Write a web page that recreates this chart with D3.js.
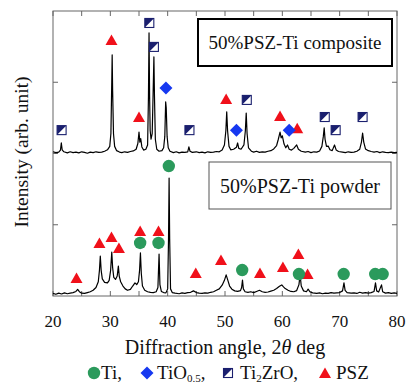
<!DOCTYPE html>
<html>
<head>
<meta charset="utf-8">
<script src="https://cdn.jsdelivr.net/npm/d3@7"></script>
<style>
  body { margin: 0; background: #fff; }
  svg { display: block; }
  text { font-family: "Liberation Serif", "Times New Roman", serif; fill: #111; }
</style>
</head>
<body>
<svg width="409" height="384"></svg>
<script>
// 2theta (deg) vs intensity (arb.)
const composite = [
  [20,50.6],[20.5,50.3],[21,50.5],[21.3,51.2],[21.45,53.7],[21.6,51.3],[21.9,50.6],[22.5,50.2],[23,50.6],[23.5,50.3],
  [24,50.5],[24.5,50.2],[25,50.6],[25.5,50.4],[26,50.1],[26.5,50.5],[27,50.3],[27.5,50.6],[28,50.4],[28.5,50.5],
  [29,50.8],[29.5,51.3],[29.9,52.5],[30.1,57],[30.25,75],[30.32,84.6],[30.4,72],[30.55,57],[30.75,52.5],[31.1,51],
  [31.6,50.5],[32,50.3],[32.5,50.6],[33,50.4],[33.5,50.7],[34,50.9],[34.5,51.5],[34.8,53.5],[35.0,57.5],[35.15,54],
  [35.3,55.2],[35.5,52.3],[35.8,51.2],[36.2,51.5],[36.5,53],[36.65,70],[36.75,92.3],[36.85,70],[36.95,58],[37.1,55],
  [37.3,57],[37.45,70],[37.6,83.9],[37.7,70],[37.85,55],[38.1,51.5],[38.5,50.8],[39,51],[39.3,52],[39.5,56],
  [39.65,68.1],[39.75,66],[39.9,56],[40.1,52],[40.4,50.8],[41,50.3],[41.5,50.6],[42,50.2],[42.5,50.5],[43,50.4],
  [43.5,50.6],[43.7,52.3],[43.9,50.8],[44.3,50.4],[45,50.6],[45.5,50.3],[46,50.5],[46.5,50.2],[47,50.6],[47.5,50.4],
  [48,50.5],[48.5,50.7],[49,50.6],[49.5,51.2],[49.9,53],[50.15,58],[50.3,64.6],[50.45,58],[50.7,52.5],[51,51.3],
  [51.5,51.5],[52,52.2],[52.2,53.7],[52.4,51.8],[52.8,51.5],[53.3,53],[53.55,58],[53.7,64.2],[53.85,57],[54.1,52],
  [54.6,50.8],[55,50.5],[55.5,50.8],[56,50.4],[56.5,50.6],[57,50.5],[57.5,50.8],[58,51],[58.5,51.6],[59,52.8],
  [59.3,55],[59.6,57.5],[59.8,55.5],[60,56.2],[60.3,53.3],[60.6,52],[60.9,53],[61.2,51.5],[61.6,51.2],[62,51.8],
  [62.5,53],[62.8,51.5],[63.3,50.8],[64,50.5],[64.5,50.7],[65,50.3],[65.5,50.6],[66,50.5],[66.5,50.9],[66.9,52.5],
  [67.15,56],[67.3,59],[67.45,55],[67.7,52.5],[68,52.6],[68.3,51.3],[68.7,51],[69.1,53],[69.4,51.2],[69.8,50.7],
  [70.5,50.5],[71,50.3],[71.5,50.6],[72,50.4],[72.5,50.5],[73,50.8],[73.5,51.5],[73.8,54],[74,57.2],[74.2,54],
  [74.5,51.6],[75,51],[75.5,50.7],[76,50.5],[76.5,50.7],[77,50.3],[77.5,50.6],[78,50.4],[78.5,50.3],[79,50.5],
  [79.5,50.3],[80,50.4]
];

const powder = [
  [20,0.9],[20.5,0.6],[21,1.0],[21.5,0.7],[22,1.1],[22.5,0.8],[23,1.0],[23.5,1.2],[24,1.6],[24.3,2.3],
  [24.6,1.5],[25,1.0],[25.5,0.9],[26,1.2],[26.5,1.5],[27,2],[27.5,3],[27.9,5],[28.1,9],[28.25,14],
  [28.4,9],[28.6,6],[29,4.8],[29.5,4.6],[29.8,5.5],[30.05,9],[30.25,15.4],[30.4,10],[30.6,6.5],[30.9,5.8],
  [31.2,7],[31.4,10.5],[31.55,7],[31.8,5],[32.2,3.5],[32.6,2.5],[33,2],[33.5,2.3],[33.9,3.5],[34.3,4.6],
  [34.6,4],[34.9,5],[35.1,9],[35.25,15.1],[35.4,8],[35.6,3.5],[36,2],[36.5,1.5],[37,1.3],[37.5,1.2],
  [38,1.5],[38.3,3],[38.5,14.7],[38.65,4],[38.9,1.6],[39.3,1.2],[39.7,1.1],[40.0,2.5],[40.15,20],[40.25,41.4],
  [40.35,20],[40.5,2.5],[40.8,1.2],[41.3,1.0],[42,0.8],[42.5,1.1],[43,0.9],[43.5,1.2],[44,1.3],[44.5,1.8],
  [45,1.2],[45.5,1.0],[46,0.9],[46.5,1.1],[47,1.0],[47.5,1.3],[48,1.5],[48.5,2],[49,2.5],[49.5,3.8],
  [49.9,5.5],[50.2,7.4],[50.5,5.5],[50.8,3.5],[51.2,2.4],[51.7,1.8],[52.2,1.6],[52.7,1.9],[52.9,3],[53.05,5.6],
  [53.2,2.5],[53.5,1.5],[54,1.3],[54.5,1.5],[55,1.2],[55.5,1.6],[56,2],[56.5,1.5],[57,1.3],[57.5,1.4],
  [58,1.7],[58.5,2],[59,2.6],[59.5,3.4],[59.9,3.9],[60.2,3.2],[60.5,2.6],[61,2.0],[61.5,1.6],[62,1.5],
  [62.5,1.9],[62.9,4],[63.1,7.4],[63.3,3.5],[63.7,1.8],[64.2,1.5],[64.5,2.4],[64.8,1.5],[65.3,1.1],[66,0.9],
  [66.5,1.1],[67,0.8],[67.5,1.0],[68,0.9],[68.5,1.2],[69,1.0],[69.5,1.1],[70,1.2],[70.5,1.8],[70.75,4.6],
  [70.95,2],[71.3,1.2],[72,1.0],[72.5,1.1],[73,0.9],[73.5,1.3],[74,1.0],[74.5,1.2],[75,1.0],[75.5,1.2],
  [76,1.6],[76.25,4.6],[76.45,1.8],[76.8,1.4],[77.3,3.9],[77.5,1.5],[78,1.0],[78.5,1.2],[79,0.9],[79.5,1.1],
  [80,0.9]
];

// phase markers [2theta, height]
const tiMarks = [[40.2,45.6],[35.2,18.6],[38.4,18.6],[53.0,9.1],[62.9,7.7],[70.7,7.7],[76.2,7.7],[77.5,7.7]];
const tioMarks = [[39.7,73],[52.0,58.2],[61.2,58.2]];
const ti2zroMarks = [[21.5,58.2],[36.8,95.8],[37.6,87.4],[43.8,58.2],[53.8,68.8],[67.4,62.8],[69.3,58.2],[74.0,62.8]];
const pszMarks = [[30.2,89.8],[35.0,62.8],[50.2,69.1],[59.6,63.2],[62.6,58.9],
  [24.1,6.3],[28.1,18.6],[30.2,20.7],[31.5,16.8],[35.2,22.8],[38.4,22.8],[44.9,8.1],[49.3,12.6],
  [56.1,8.1],[60.1,10.2],[62.8,14.7],[64.4,7.7]];

const xTicks = [20, 30, 40, 50, 60, 70, 80];
const xMinor = d3.range(20, 81, 5);
const yTicks = [25, 50, 75];

const C_TI = '#2b9a5c', C_TIO = '#1638f0', C_TZ = '#1a1f6e', C_PSZ = '#f0101a';

const svg = d3.select('svg');
const m = {l: 53, r: 397, t: 11, b: 296};
const x = d3.scaleLinear().domain([20, 80]).range([m.l, m.r]);
const y = d3.scaleLinear().domain([0, 100]).range([m.b, m.t]);

// frame + ticks
const axG = svg.append('g').attr('stroke', '#666').attr('stroke-width', 1);
axG.append('rect').attr('x', m.l).attr('y', m.t).attr('width', m.r - m.l).attr('height', m.b - m.t)
  .attr('fill', 'none');
axG.selectAll('.tt').data(xMinor).enter().append('line')
  .attr('x1', d => x(d)).attr('x2', d => x(d)).attr('y1', m.t).attr('y2', m.t + 5);
axG.selectAll('.tb').data(xMinor).enter().append('line')
  .attr('x1', d => x(d)).attr('x2', d => x(d)).attr('y1', m.b).attr('y2', m.b - 5);
axG.selectAll('.tl').data(yTicks).enter().append('line')
  .attr('x1', m.l).attr('x2', m.l + 5).attr('y1', d => y(d)).attr('y2', d => y(d));
axG.selectAll('.tr').data(yTicks).enter().append('line')
  .attr('x1', m.r).attr('x2', m.r - 5).attr('y1', d => y(d)).attr('y2', d => y(d));

svg.selectAll('.xl').data(xTicks).enter().append('text')
  .attr('x', d => x(d)).attr('y', 327).attr('text-anchor', 'middle')
  .style('font-size', '17px').text(d => d);

// spectra
const line = d3.line().x(d => x(d[0])).y(d => y(d[1]));
[composite, powder].forEach(s => {
  svg.append('path').datum(s).attr('d', line)
    .attr('fill', 'none').attr('stroke', '#000').attr('stroke-width', 1.2)
    .attr('stroke-linejoin', 'round');
});

// marker drawing helpers
function drawTri(g, cx, cy) {
  g.append('path').attr('d', `M${cx},${cy - 5.5}L${cx + 6},${cy + 5}L${cx - 6},${cy + 5}Z`).attr('fill', C_PSZ);
}
function drawCircle(g, cx, cy) {
  g.append('circle').attr('cx', cx).attr('cy', cy).attr('r', 6.2).attr('fill', C_TI);
}
function drawDiamond(g, cx, cy) {
  g.append('path').attr('d', `M${cx},${cy - 6.5}L${cx + 6.5},${cy}L${cx},${cy + 6.5}L${cx - 6.5},${cy}Z`).attr('fill', C_TIO);
}
function drawSquare(g, cx, cy) {
  const h = 4.5;
  g.append('rect').attr('x', cx - h).attr('y', cy - h).attr('width', 2 * h).attr('height', 2 * h)
    .attr('fill', '#fff').attr('stroke', C_TZ).attr('stroke-width', 1.1);
  g.append('path').attr('d', `M${cx - h},${cy - h}L${cx + h},${cy - h}L${cx - h},${cy + h}Z`).attr('fill', C_TZ);
}

const mk = svg.append('g');
pszMarks.forEach(d => drawTri(mk, x(d[0]), y(d[1])));
tiMarks.forEach(d => drawCircle(mk, x(d[0]), y(d[1])));
tioMarks.forEach(d => drawDiamond(mk, x(d[0]), y(d[1])));
ti2zroMarks.forEach(d => drawSquare(mk, x(d[0]), y(d[1])));

// sample labels
svg.append('rect').attr('x', 198).attr('y', 19).attr('width', 194).attr('height', 47)
  .attr('fill', '#fff').attr('stroke', '#000').attr('stroke-width', 2);
svg.append('text').attr('x', 295).attr('y', 49).attr('text-anchor', 'middle')
  .style('font-size', '19px').text('50%PSZ-Ti composite');

svg.append('rect').attr('x', 209).attr('y', 162).attr('width', 182).attr('height', 47)
  .attr('fill', '#fff').attr('stroke', '#555').attr('stroke-width', 1);
svg.append('text').attr('x', 300).attr('y', 193).attr('text-anchor', 'middle')
  .style('font-size', '20px').text('50%PSZ-Ti powder');

// axis titles
const xt = svg.append('text').attr('x', 225).attr('y', 354).attr('text-anchor', 'middle')
  .style('font-size', '20px');
xt.append('tspan').text('Diffraction angle, 2');
xt.append('tspan').style('font-style', 'italic').text('θ');
xt.append('tspan').text(' deg');

svg.append('text').attr('transform', 'translate(28,152) rotate(-90)').attr('text-anchor', 'middle')
  .style('font-size', '19.5px').text('Intensity (arb. unit)');

// legend
const lg = svg.append('g');
const ly = 373, lb = 379;
drawCircle(lg, 94, ly);
lg.append('text').attr('x', 101).attr('y', lb).style('font-size', '19px').text('Ti,');
drawDiamond(lg, 147, ly);
const t2 = lg.append('text').attr('x', 157).attr('y', lb).style('font-size', '19px');
t2.append('tspan').text('TiO');
t2.append('tspan').attr('dy', 3).style('font-size', '11px').text('0.5');
t2.append('tspan').attr('dy', -3).text(',');
drawSquare(lg, 228, ly);
const t3 = lg.append('text').attr('x', 240).attr('y', lb).style('font-size', '19px');
t3.append('tspan').text('Ti');
t3.append('tspan').attr('dy', 3).style('font-size', '11px').text('2');
t3.append('tspan').attr('dy', -3).text('ZrO,');
drawTri(lg, 325, ly);
lg.append('text').attr('x', 336).attr('y', lb).style('font-size', '19px').text('PSZ');
</script>
</body>
</html>
